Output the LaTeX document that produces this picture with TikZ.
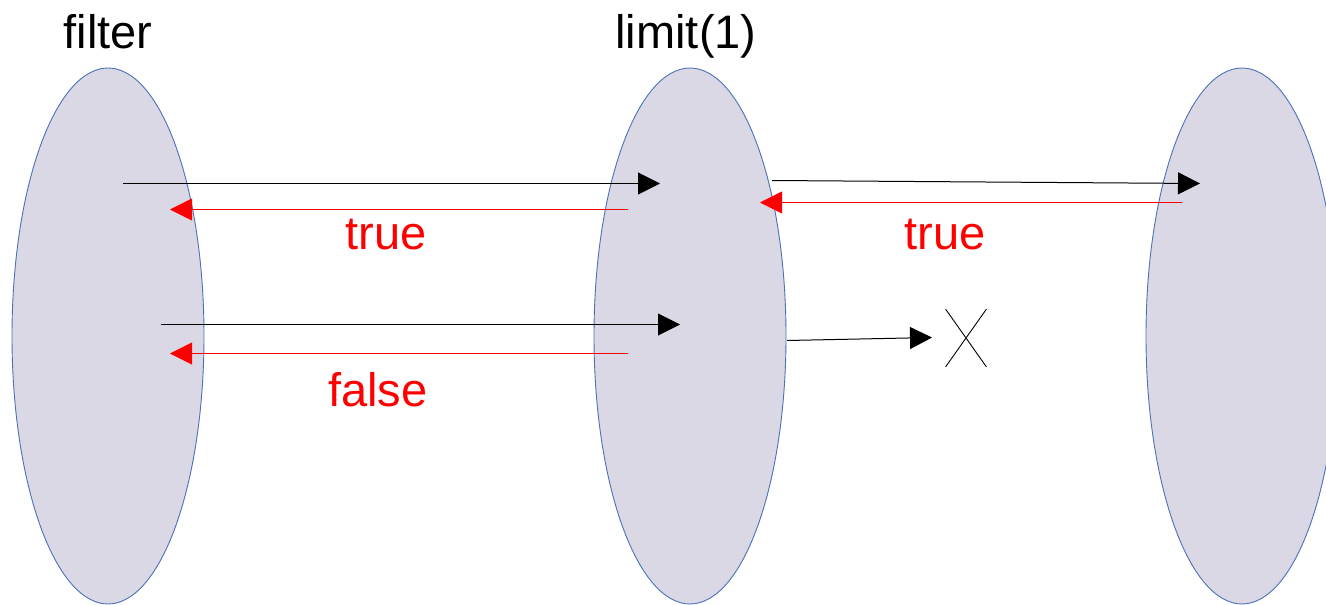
\documentclass[tikz,border=0pt]{standalone}
\usepackage{fontspec}
\setmainfont{Liberation Sans}
\usetikzlibrary{shapes.geometric,shapes.misc,arrows.meta}
\definecolor{blobfill}{HTML}{D9D8E4}
\definecolor{blobline}{HTML}{4A72B8}
\definecolor{retred}{HTML}{FF0000}
\begin{document}
\begin{tikzpicture}[x=1pt,y=-1pt,
  blob/.style={ellipse, draw=blobline, fill=blobfill, line width=0.9pt, minimum width=192pt, minimum height=536pt, inner sep=0pt},
  lbl/.style={anchor=base, font=\fontsize{47}{56}\selectfont, inner sep=0pt},
  fwdarrow/.style={draw=black, line width=1pt, -{Triangle[length=22pt,width=22pt]}},
  retarrow/.style={draw=retred, line width=1pt, -{Triangle[length=22pt,width=22pt,fill=retred]}},
  xmark/.style={cross out, draw=black, line width=0.9pt, minimum width=40pt, minimum height=57pt, inner sep=0pt}]
\useasboundingbox (0,0) rectangle (1326,605);
\node[blob] (filter) at (108,336) {};
\node[blob] (limit) at (690,336) {};
\node[blob] (sink) at (1242,336) {};
\node[lbl] (tfilter) at (108,48) {filter};
\node[lbl] (tlimit) at (686,48) {limit(1)};
\node[lbl, text=retred] (ttrue1) at (386,249) {true};
\node[lbl, text=retred] (tfalse) at (378,406) {false};
\node[lbl, text=retred] (ttrue2) at (945,249) {true};
\node[xmark] (stop) at (966,338) {};
\coordinate (f1s) at (123,183.5);
\coordinate (f1e) at (660,183.5);
\coordinate (r1s) at (628,209.5);
\coordinate (r1e) at (170,209.5);
\coordinate (f2s) at (161,324.5);
\coordinate (f2e) at (680,324.5);
\coordinate (r2s) at (628,353.5);
\coordinate (r2e) at (170,353.5);
\coordinate (f3s) at (772,180.5);
\coordinate (f3e) at (1200,183.5);
\coordinate (r3s) at (1182,202.5);
\coordinate (r3e) at (760,202.5);
\coordinate (f4s) at (787,340.5);
\coordinate (f4e) at (932,337.5);
\draw[fwdarrow] (f1s) -- (f1e);
\draw[retarrow] (r1s) -- (r1e);
\draw[fwdarrow] (f2s) -- (f2e);
\draw[retarrow] (r2s) -- (r2e);
\draw[fwdarrow] (f3s) -- (f3e);
\draw[retarrow] (r3s) -- (r3e);
\draw[fwdarrow] (f4s) -- (f4e);
\end{tikzpicture}
\end{document}
